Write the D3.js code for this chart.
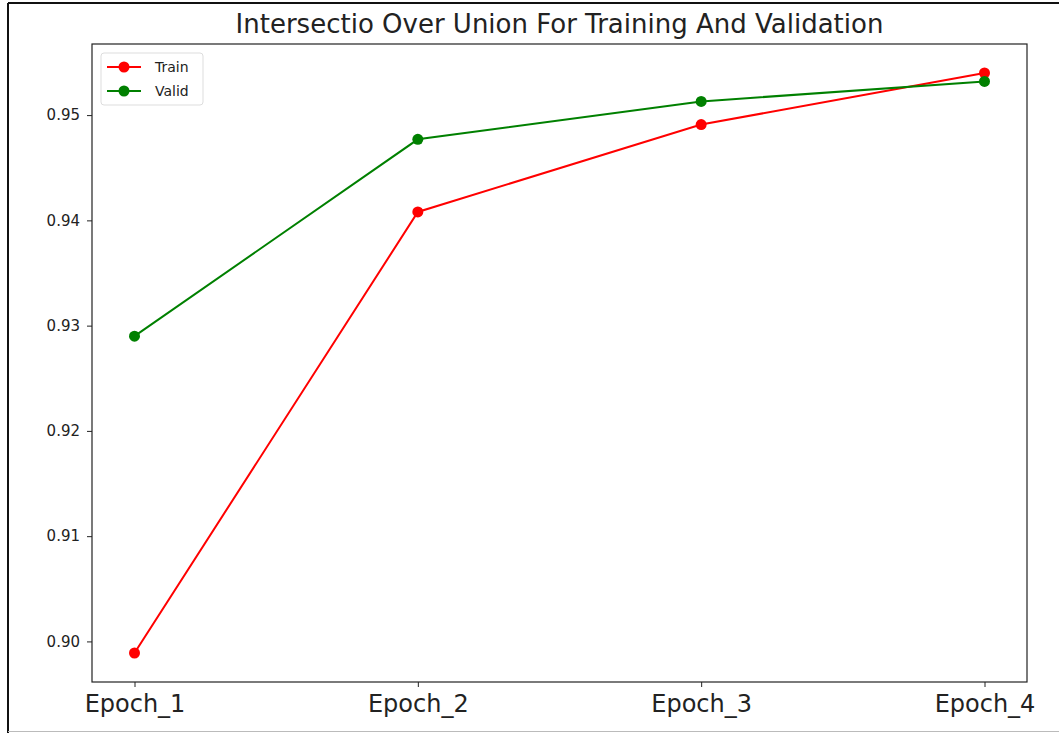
<!DOCTYPE html>
<html>
<head>
<meta charset="utf-8">
<script src="https://cdn.jsdelivr.net/npm/d3@7"></script>
<style>
  body { margin: 0; background: #fff; }
  svg { display: block; font-family: "DejaVu Sans", sans-serif; }
</style>
</head>
<body>
<div id="chart"></div>
<script>
const epochs = ["Epoch_1", "Epoch_2", "Epoch_3", "Epoch_4"];
const trainIoU = [0.8989, 0.9408, 0.9491, 0.9540];
const validIoU = [0.9290, 0.9477, 0.9513, 0.9532];
const yTicks = [0.90, 0.91, 0.92, 0.93, 0.94, 0.95];

const width = 1059;
const height = 733;
const margin = { top: 44, right: 32, bottom: 51, left: 92 };

const svg = d3
  .select("#chart")
  .append("svg")
  .attr("width", width)
  .attr("height", height);

// frame of the screenshot
svg.append("line").attr("x1", 8).attr("x2", width).attr("y1", 3).attr("y2", 3)
  .attr("stroke", "#111").attr("stroke-width", 2);
svg.append("line").attr("x1", 8).attr("x2", 8).attr("y1", 3).attr("y2", height)
  .attr("stroke", "#111").attr("stroke-width", 2);
svg.append("line").attr("x1", 8).attr("x2", width).attr("y1", 731.5).attr("y2", 731.5)
  .attr("stroke", "#bbb").attr("stroke-width", 1);

const x0 = margin.left;
const x1 = width - margin.right;
const y0 = margin.top;
const y1 = height - margin.bottom;

// matplotlib style 5% margins
const x = d3.scaleLinear().domain([-0.15, 3.15]).range([x0, x1]);
const allVals = trainIoU.concat(validIoU);
const yMin = d3.min(allVals), yMax = d3.max(allVals);
const pad = (yMax - yMin) * 0.05;
const y = d3.scaleLinear().domain([yMin - pad, yMax + pad]).range([y1, y0]);

// title
svg.append("text")
  .attr("x", (x0 + x1) / 2)
  .attr("y", 33)
  .attr("text-anchor", "middle")
  .attr("font-size", 26)
  .attr("fill", "#222")
  .text("Intersectio Over Union For Training And Validation");

// axes
const yAxis = svg.append("g")
  .attr("transform", `translate(${x0},0)`)
  .call(d3.axisLeft(y).tickValues(yTicks).tickFormat(d3.format(".2f")).tickSize(5).tickPadding(7));
yAxis.attr("font-family", null).select(".domain").remove();
yAxis.selectAll("text").attr("font-size", 15).attr("fill", "#222");
yAxis.selectAll("line").attr("stroke", "#222");

const xAxis = svg.append("g")
  .attr("transform", `translate(0,${y1})`)
  .call(d3.axisBottom(x).tickValues([0, 1, 2, 3]).tickFormat((d) => epochs[d]).tickSize(5).tickPadding(8));
xAxis.attr("font-family", null).select(".domain").remove();
xAxis.selectAll("text").attr("font-size", 24).attr("fill", "#222");
xAxis.selectAll("line").attr("stroke", "#222");

// plot frame
svg.append("rect")
  .attr("x", x0).attr("y", y0)
  .attr("width", x1 - x0).attr("height", y1 - y0)
  .attr("fill", "none").attr("stroke", "#222").attr("stroke-width", 1.2);

const series = [
  { name: "Train", values: trainIoU, color: "#ff0000" },
  { name: "Valid", values: validIoU, color: "#008000" },
];

const line = d3.line().x((d, i) => x(i)).y((d) => y(d));

series.forEach((s) => {
  svg.append("path")
    .attr("d", line(s.values))
    .attr("fill", "none")
    .attr("stroke", s.color)
    .attr("stroke-width", 2);
  svg.selectAll(null)
    .data(s.values)
    .join("circle")
    .attr("cx", (d, i) => x(i))
    .attr("cy", (d) => y(d))
    .attr("r", 5.5)
    .attr("fill", s.color);
});

// legend
const legend = svg.append("g").attr("transform", "translate(101,53)");
legend.append("rect")
  .attr("width", 102).attr("height", 52).attr("rx", 3)
  .attr("fill", "#fff").attr("fill-opacity", 0.8)
  .attr("stroke", "#ddd");
series.forEach((s, i) => {
  const ly = 14 + i * 24;
  legend.append("line")
    .attr("x1", 6).attr("x2", 40).attr("y1", ly).attr("y2", ly)
    .attr("stroke", s.color).attr("stroke-width", 2);
  legend.append("circle").attr("cx", 23).attr("cy", ly).attr("r", 5.5).attr("fill", s.color);
  legend.append("text")
    .attr("x", 54).attr("y", ly).attr("dy", "0.35em")
    .attr("font-size", 14).attr("fill", "#222")
    .text(s.name);
});
</script>
</body>
</html>
